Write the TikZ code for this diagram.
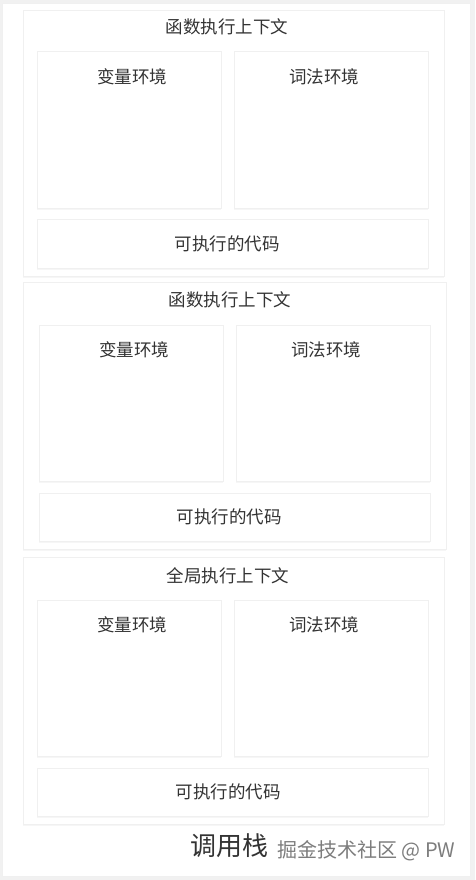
\documentclass[tikz,border=0pt]{standalone}
\usepackage{fontspec}
\setmainfont{Noto Sans CJK SC}
\newfontfamily\wmfont{Noto Sans CJK SC}
\usetikzlibrary{shadows}
\definecolor{bggray}{HTML}{F1F1F1}
\definecolor{edge}{HTML}{F0F0F0}
\definecolor{txt}{HTML}{333333}
\definecolor{wm}{HTML}{7D7D7D}
\tikzset{
  panel/.style={draw=edge, line width=0.7pt, fill=white, inner sep=0pt, anchor=north west,
    drop shadow={shadow xshift=0pt, shadow yshift=-1.2pt, opacity=0.07}},
  card/.style={panel},
  label/.style={text=txt, font=\fontsize{17.5}{20}\selectfont, inner sep=0pt},
}
\begin{document}
\begin{tikzpicture}[x=1pt,y=-1pt]
\useasboundingbox (0,0) rectangle (475,880);
\fill[bggray] (0,0) rectangle (475,880);
\node[draw=edge, fill=white, anchor=north west, minimum width=468pt, minimum height=873pt, inner sep=0pt] (sheet) at (2,3) {};
% card 1
\node[card, minimum width=421pt, minimum height=266pt] (c1) at (23,10) {};
\node[label] (t1) at (227,27) {函数执行上下文};
\node[panel, minimum width=184pt, minimum height=157pt] (v1) at (37,51) {};
\node[panel, minimum width=194pt, minimum height=157pt] (l1) at (234,51) {};
\node[label] (v1t) at (132,77) {变量环境};
\node[label] (l1t) at (324,77) {词法环境};
\node[panel, minimum width=391pt, minimum height=49pt] (e1) at (37,219) {};
\node[label] (e1t) at (227,244) {可执行的代码};
% card 2
\node[card, minimum width=423pt, minimum height=267pt] (c2) at (23,282) {};
\node[label] (t2) at (230,300) {函数执行上下文};
\node[panel, minimum width=184pt, minimum height=156pt] (v2) at (39,325) {};
\node[panel, minimum width=194pt, minimum height=156pt] (l2) at (236,325) {};
\node[label] (v2t) at (134,350) {变量环境};
\node[label] (l2t) at (326,350) {词法环境};
\node[panel, minimum width=391pt, minimum height=48pt] (e2) at (39,493) {};
\node[label] (e2t) at (229,517) {可执行的代码};
% card 3
\node[card, minimum width=421pt, minimum height=267pt] (c3) at (23,557) {};
\node[label] (t3) at (228,576) {全局执行上下文};
\node[panel, minimum width=184pt, minimum height=156pt] (v3) at (37,600) {};
\node[panel, minimum width=194pt, minimum height=156pt] (l3) at (234,600) {};
\node[label] (v3t) at (132,625) {变量环境};
\node[label] (l3t) at (324,625) {词法环境};
\node[panel, minimum width=391pt, minimum height=48pt] (e3) at (37,768) {};
\node[label] (e3t) at (228,792) {可执行的代码};
% footer
\node[text=txt, font=\fontsize{26}{28}\selectfont, inner sep=0pt] (stack) at (229,846) {调用栈};
\node[text=wm, font=\wmfont\fontsize{20}{22}\selectfont, inner sep=0pt, anchor=west] (mark) at (277,851) {掘金技术社区 @ PW};
\end{tikzpicture}
\end{document}
